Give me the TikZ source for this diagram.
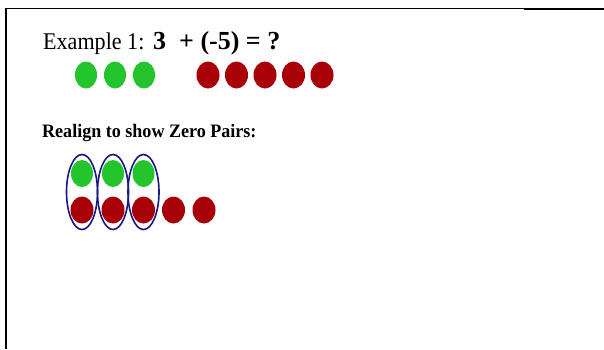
\documentclass[tikz,border=0pt]{standalone}
\usepackage{fontspec}
\setmainfont{Liberation Serif}
\usetikzlibrary{shapes.geometric}
\definecolor{dotgreen}{RGB}{36,196,44}
\definecolor{dotred}{RGB}{168,2,8}
\definecolor{pairblue}{RGB}{24,24,130}
\definecolor{panel}{RGB}{254,254,254}
\tikzset{
  gdot/.style={ellipse, fill=dotgreen, draw=none, minimum width=22pt, minimum height=27pt, inner sep=0pt},
  rdot/.style={ellipse, fill=dotred, draw=none, minimum width=23pt, minimum height=27pt, inner sep=0pt},
  pairring/.style={ellipse, draw=pairblue, line width=1.6pt, minimum width=31pt, minimum height=75pt, inner sep=0pt},
  txt/.style={anchor=base west, inner sep=0pt, text=black}
}
\begin{document}
\begin{tikzpicture}[x=1pt, y=-1pt]
\useasboundingbox (0,0) rectangle (604,349);
\fill[white] (0,0) rectangle (604,349);
\fill[panel] (20,10) rectangle (524,330);
% frame lines
\draw[line width=1.5pt] (5,8.5) -- (524,8.5);
\draw[line width=2pt] (524,9) -- (604,9);
\draw[line width=2pt] (6,8) -- (6,349);
% title
\node[txt, font=\fontsize{24}{28}\selectfont] (title) at (43,49) {\scalebox{0.92}[1]{Example 1:}};
\node[txt, font=\fontsize{26}{30}\selectfont\bfseries] (eq) at (153,49) {3\hspace{13pt}+ (-5) = ?};
% top row
\node[gdot] (g1) at (86,75) {};
\node[gdot] (g2) at (115,75) {};
\node[gdot] (g3) at (144,75) {};
\node[rdot] (r1) at (208,75) {};
\node[rdot] (r2) at (236.5,75) {};
\node[rdot] (r3) at (265,75) {};
\node[rdot] (r4) at (293.5,75) {};
\node[rdot] (r5) at (322,75) {};
% subtitle
\node[txt, font=\fontsize{19}{23}\selectfont\bfseries] (sub) at (42,137) {\scalebox{0.95}[1]{Realign to show Zero Pairs:}};
% zero pairs
\node[gdot] (pg1) at (82,173.5) {};
\node[gdot] (pg2) at (113,173.5) {};
\node[gdot] (pg3) at (143.5,173.5) {};
\node[rdot] (pr1) at (82,210) {};
\node[rdot] (pr2) at (113,210) {};
\node[rdot] (pr3) at (143.5,210) {};
\node[rdot] (pr4) at (173.5,210) {};
\node[rdot] (pr5) at (204,210) {};
\node[pairring] (e1) at (82,192) {};
\node[pairring] (e2) at (113,192) {};
\node[pairring] (e3) at (143.5,192) {};
\end{tikzpicture}
\end{document}
